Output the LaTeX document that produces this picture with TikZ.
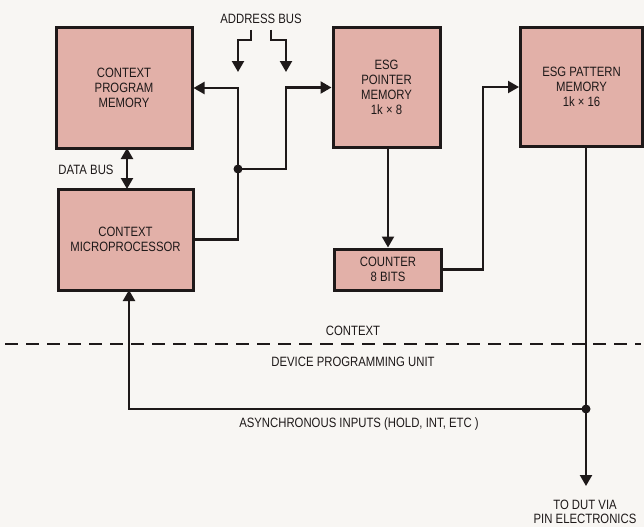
\documentclass[tikz,border=0pt]{standalone}
\usepackage{fontspec}
\setmainfont{Liberation Sans}[FakeStretch=0.84]
\usetikzlibrary{arrows.meta}
\definecolor{boxfill}{RGB}{226,176,168}
\definecolor{paper}{RGB}{248,246,243}
\definecolor{ink}{RGB}{30,25,25}
\begin{document}
\begin{tikzpicture}[x=1pt,y=-1pt,
  blk/.style={draw=ink,line width=3pt,fill=boxfill,align=center,inner sep=0pt,
    font=\fontsize{13.5}{15}\selectfont,text=ink},
  conn/.style={draw=ink,line width=2.2pt},
  arr/.style={conn,-{Triangle[width=12pt,length=11pt]}},
  darr/.style={conn,{Triangle[width=12pt,length=11pt]}-{Triangle[width=12pt,length=11pt]}},
  lbl/.style={font=\fontsize{13.5}{13.5}\selectfont,text=ink,inner sep=0pt,align=center},
  dot/.style={circle,fill=ink,inner sep=0pt,minimum size=9pt}]
\fill[paper] (0,0) rectangle (644,527);
\useasboundingbox (0,0) rectangle (644,527);

% blocks
\node[blk,minimum width=136pt,minimum height=120pt] (cpm) at (124,88) {CONTEXT\\PROGRAM\\MEMORY};
\node[blk,minimum width=135pt,minimum height=101pt] (cmp) at (125.5,239.5) {CONTEXT\\MICROPROCESSOR};
\node[blk,minimum width=107pt,minimum height=119pt] (ptr) at (386.5,87.5) {ESG\\POINTER\\MEMORY\\1k × 8};
\node[blk,minimum width=107pt,minimum height=41pt] (cnt) at (388,269.5) {COUNTER\\8 BITS};
\node[blk,minimum width=122pt,minimum height=118pt] (pat) at (581.5,87) {ESG PATTERN\\MEMORY\\1k × 16};

% coordinates
\coordinate (db1) at (127,148);
\coordinate (db2) at (127,189);
\coordinate (j) at (238,169);
\coordinate (k) at (286,169);
\coordinate (ab1) at (251,30);
\coordinate (ab1e) at (238,72);
\coordinate (ab2) at (271,30);
\coordinate (ab2e) at (286,72);
\coordinate (p1) at (388,147);
\coordinate (m) at (483,200);
\coordinate (q1) at (586,146);
\coordinate (d) at (586,409);
\coordinate (out) at (586,486);
\coordinate (u1) at (129,290);
\coordinate (dl) at (5,344);
\coordinate (dr) at (641,344);

% dashed boundary
\draw[draw=ink,line width=1.8pt,dash pattern=on 13pt off 8pt] (dl) -- (dr);

% connectors
\draw[darr] (db2) -- (db1);
\draw[arr] (cmp.east) -| (j) |- (cpm.east);
\draw[arr] (j) -- (k) |- (ptr.west);
\draw[arr] (ab1) -- ++(0,10) -| (ab1e);
\draw[arr] (ab2) -- ++(0,10) -| (ab2e);
\draw[arr] (p1) -- (cnt.north);
\draw[arr] (cnt.east) -| (m) |- (pat.west);
\draw[conn] (q1) -- (d);
\draw[arr] (d) -- (out);
\draw[arr] (d) -| (u1);
\node[dot] (jd) at (j) {};
\node[dot] (dd) at (d) {};

% labels
\node[lbl] (labus) at (261,19) {ADDRESS BUS};
\node[lbl] (ldbus) at (86,170) {DATA BUS};
\node[lbl] (lctx) at (353,331) {CONTEXT};
\node[lbl] (ldpu) at (353,362) {DEVICE PROGRAMMING UNIT};
\node[lbl] (lasy) at (359,424) {ASYNCHRONOUS INPUTS (HOLD, INT, ETC )};
\node[lbl,anchor=north] (ldut) at (585,500) {TO DUT VIA\\PIN ELECTRONICS};
\end{tikzpicture}
\end{document}
